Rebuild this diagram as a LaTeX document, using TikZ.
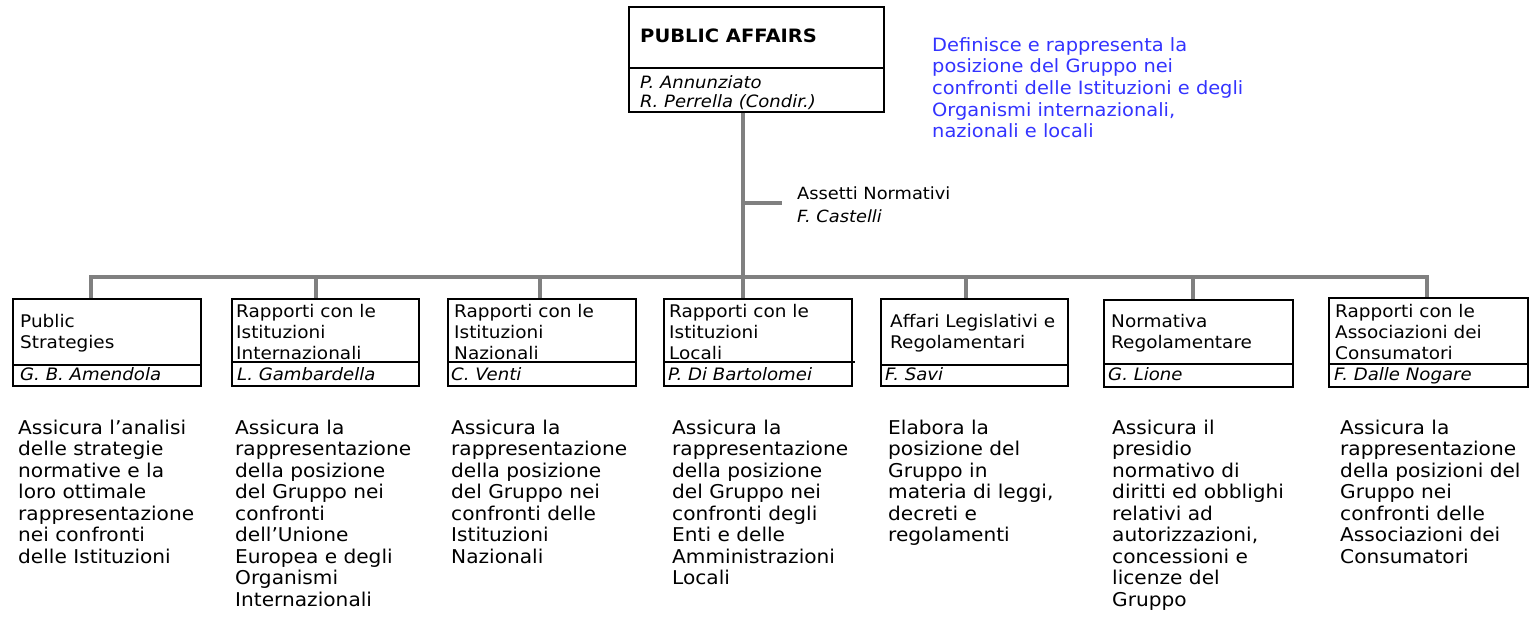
\documentclass[tikz,border=0pt]{standalone}
\usepackage{fontspec}
\setmainfont{DejaVu Sans}[FakeStretch=1.06]
\definecolor{linegray}{RGB}{128,128,128}
\definecolor{bluetxt}{RGB}{51,51,255}
\tikzset{
  box/.style={draw=black, line width=1.6pt, rectangle, inner sep=0pt, anchor=north west},
  sepline/.style={draw=black, line width=1.6pt},
  conn/.style={draw=linegray, line width=4pt, line join=miter},
  boxtxt/.style={anchor=north west, inner sep=0pt, align=left, font=\fontsize{17.4}{21}\selectfont},
  nametxt/.style={anchor=base west, inner sep=0pt, font=\fontsize{17.1}{18}\selectfont\itshape},
  desc/.style={anchor=north west, inner sep=0pt, align=left, font=\fontsize{19}{21.5}\selectfont},
}
\begin{document}
\begin{tikzpicture}[x=1pt, y=-1pt]
\useasboundingbox (0,0) rectangle (1532,626);

% top box
\node[box, minimum width=255pt, minimum height=105pt] (pa) at (628,6) {};
\draw[sepline] (pa.west |- 0,68) -- (pa.east |- 0,68);
\node[anchor=base west, inner sep=0pt, font=\fontsize{18.4}{20}\selectfont\bfseries] (patitle) at (640,43) {PUBLIC AFFAIRS};
\node[anchor=north west, inner sep=0pt, align=left, font=\fontsize{17}{18}\selectfont\itshape] (panames) at (640,75.4) {\strut P. Annunziato\\R. Perrella (Condir.)};

% blue text
\node[anchor=north west, inner sep=0pt, align=left, text=bluetxt, font=\fontsize{18.3}{21.6}\selectfont] (mission) at (932,35.9) {\strut Definisce e rappresenta la\\posizione del Gruppo nei\\confronti delle Istituzioni e degli\\Organismi internazionali,\\nazionali e locali};

% side unit
\node[anchor=base west, inner sep=0pt, font=\fontsize{16.8}{19}\selectfont] (side) at (797,199) {Assetti Normativi};
\node[anchor=base west, inner sep=0pt, font=\fontsize{16.8}{19}\selectfont\itshape] (sidename) at (797,222) {F. Castelli};

% unit boxes
\node[box, minimum width=188pt, minimum height=87pt] (b1) at (12,298) {};
\node[box, minimum width=187pt, minimum height=87pt] (b2) at (231,298) {};
\node[box, minimum width=188pt, minimum height=87pt] (b3) at (447,298) {};
\node[box, minimum width=188pt, minimum height=87pt] (b4) at (663,298) {};
\node[box, minimum width=187pt, minimum height=87pt] (b5) at (880,298) {};
\node[box, minimum width=189pt, minimum height=87pt] (b6) at (1103,299) {};
\node[box, minimum width=199pt, minimum height=89pt] (b7) at (1328,297) {};

\draw[sepline] (b1.west |- 0,365) -- (b1.east |- 0,365);
\draw[sepline] (b2.west |- 0,362) -- (b2.east |- 0,362);
\draw[sepline] (b3.west |- 0,362) -- (b3.east |- 0,362);
\draw[sepline] (b4.west |- 0,362) -- ([xshift=2pt]b4.east |- 0,362);
\draw[sepline] (b5.west |- 0,365) -- (b5.east |- 0,365);
\draw[sepline] (b6.west |- 0,364) -- (b6.east |- 0,364);
\draw[sepline] (b7.west |- 0,364) -- (b7.east |- 0,364);

% unit titles
\node[boxtxt] (t1) at (20,312.3) {\strut Public\\Strategies};
\node[boxtxt] (t2) at (236,302.3) {\strut Rapporti con le\\Istituzioni\\Internazionali};
\node[boxtxt] (t3) at (454,302.3) {\strut Rapporti con le\\Istituzioni\\Nazionali};
\node[boxtxt] (t4) at (669,302.3) {\strut Rapporti con le\\Istituzioni\\Locali};
\node[boxtxt] (t5) at (890,313) {\strut Affari Legislativi e\\Regolamentari};
\node[boxtxt] (t6) at (1111,313) {\strut Normativa\\Regolamentare};
\node[boxtxt] (t7) at (1335,302.3) {\strut Rapporti con le\\Associazioni dei\\Consumatori};

% unit heads
\node[nametxt] (n1) at (20,380) {G. B. Amendola};
\node[nametxt] (n2) at (237,380) {L. Gambardella};
\node[nametxt] (n3) at (451,380) {C. Venti};
\node[nametxt] (n4) at (668,380) {P. Di Bartolomei};
\node[nametxt] (n5) at (885,380) {F. Savi};
\node[nametxt] (n6) at (1108,380) {G. Lione};
\node[nametxt] (n7) at (1334,380) {F. Dalle Nogare};

% descriptions
\node[desc] (c1) at (18,419) {\strut Assicura l’analisi\\delle strategie\\normative e la\\loro ottimale\\rappresentazione\\nei confronti\\delle Istituzioni};
\node[desc] (c2) at (235,419) {\strut Assicura la\\rappresentazione\\della posizione\\del Gruppo nei\\confronti\\dell’Unione\\Europea e degli\\Organismi\\Internazionali};
\node[desc] (c3) at (451,419) {\strut Assicura la\\rappresentazione\\della posizione\\del Gruppo nei\\confronti delle\\Istituzioni\\Nazionali};
\node[desc] (c4) at (672,419) {\strut Assicura la\\rappresentazione\\della posizione\\del Gruppo nei\\confronti degli\\Enti e delle\\Amministrazioni\\Locali};
\node[desc] (c5) at (888,419) {\strut Elabora la\\posizione del\\Gruppo in\\materia di leggi,\\decreti e\\regolamenti};
\node[desc] (c6) at (1112,419) {\strut Assicura il\\presidio\\normativo di\\diritti ed obblighi\\relativi ad\\autorizzazioni,\\concessioni e\\licenze del\\Gruppo};
\node[desc] (c7) at (1340,419) {\strut Assicura la\\rappresentazione\\della posizioni del\\Gruppo nei\\confronti delle\\Associazioni dei\\Consumatori};

% connectors
\coordinate (d1) at (91,277);
\coordinate (d2) at (316,277);
\coordinate (d3) at (540,277);
\coordinate (d4) at (743,277);
\coordinate (d5) at (966,277);
\coordinate (d6) at (1193,277);
\coordinate (d7) at (1427,277);
\coordinate (sb) at (782,203);

\draw[conn] (d1 |- b1.north) -- (d1) -- (d7) -- (d7 |- b7.north);
\draw[conn] (d2) -- (d2 |- b2.north);
\draw[conn] (d3) -- (d3 |- b3.north);
\draw[conn] (d4 |- pa.south) -- (d4 |- b4.north);
\draw[conn] (d5) -- (d5 |- b5.north);
\draw[conn] (d6) -- (d6 |- b6.north);
\draw[conn] (sb -| d4) -- (sb);
\end{tikzpicture}
\end{document}
